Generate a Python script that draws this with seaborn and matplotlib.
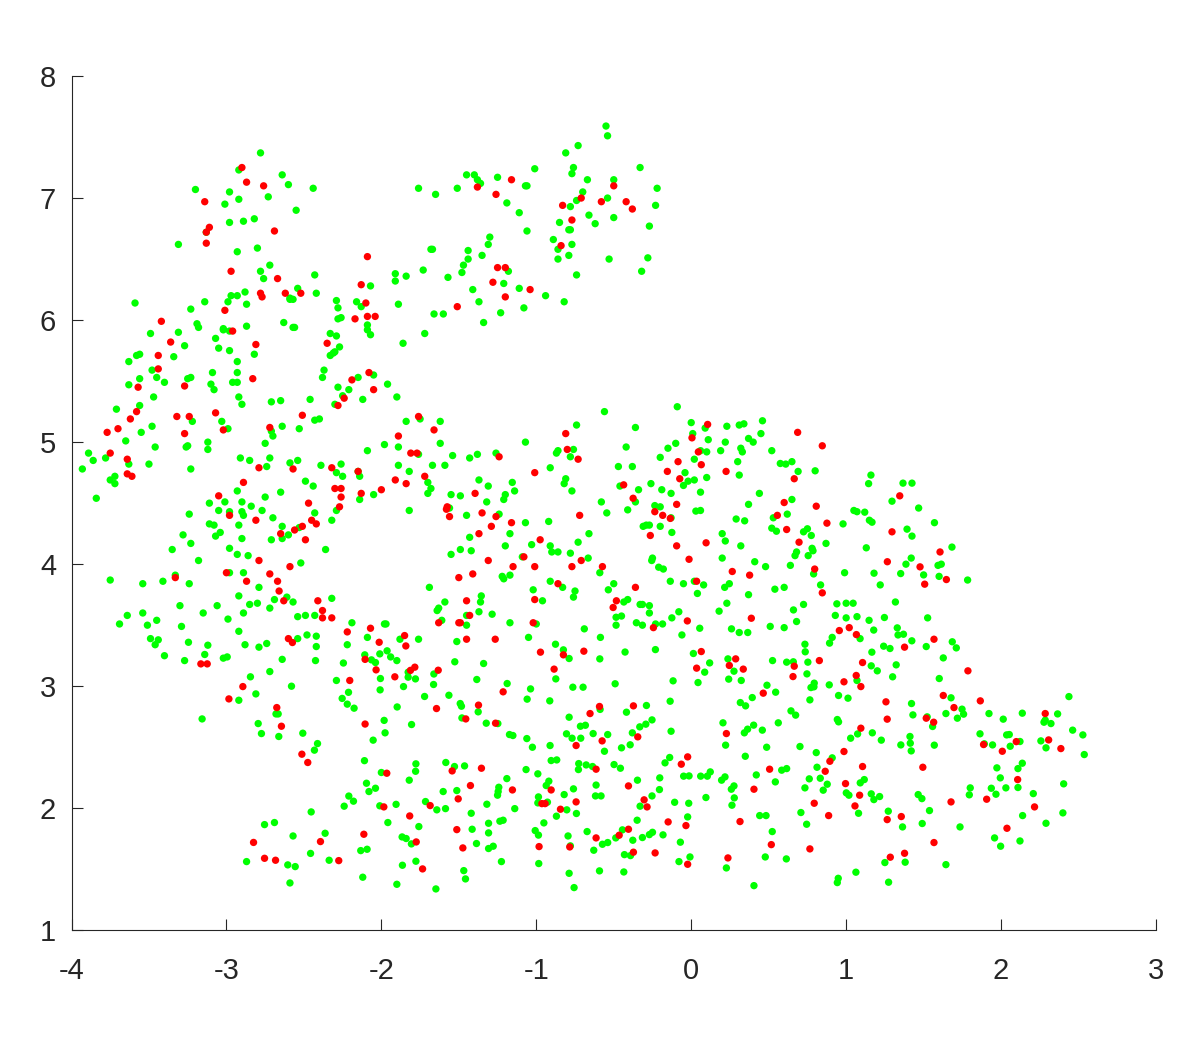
import matplotlib
matplotlib.use("Agg")
import matplotlib.pyplot as plt
import pandas as pd
import seaborn as sns

x_ticks = [-4, -3, -2, -1, 0, 1, 2, 3]
y_ticks = [1, 2, 3, 4, 5, 6, 7, 8]

green_nw = [(-2.78,7.37),(-2.92,7.23),(-2.64,7.19),(-2.60,7.11),(-2.44,7.08),(-3.20,7.07),(-2.98,7.05),(-2.92,6.99),(-2.73,7.01),(-3.01,6.95),(-2.55,6.90),(-2.82,6.83),(-2.89,6.81),(-2.98,6.80),(-3.13,6.72),(-3.31,6.62),(-2.80,6.59),(-2.93,6.56),(-2.72,6.45),(-2.78,6.40),(-2.76,6.34),(-2.43,6.37),(-2.54,6.26),(-2.42,6.22),(-2.88,6.23),(-2.93,6.20),(-2.97,6.20),(-2.99,6.15),(-2.87,6.13),(-3.14,6.15),(-3.59,6.14),(-3.23,6.09),(-2.59,6.18),(-2.59,6.17),(-2.57,6.17),(-3.19,5.97),(-3.18,5.94),(-2.63,5.98),(-2.57,5.94),(-2.56,5.94),(-2.87,5.95),(-3.02,5.93),(-3.02,5.92),(-2.98,5.91),(-3.49,5.89),(-3.31,5.90),(-3.07,5.85),(-3.27,5.79),(-3.05,5.77),(-2.98,5.75),(-2.82,5.72),(-2.33,5.89),(-3.56,5.72),(-3.58,5.71),(-3.34,5.70),(-3.63,5.66),(-2.93,5.66),(-3.48,5.59),(-2.93,5.57),(-3.09,5.57),(-2.37,5.59),(-2.33,5.71),(-2.38,5.53),(-3.45,5.53),(-3.56,5.52),(-3.25,5.52),(-3.23,5.53)]
red_nw = [(-2.90,7.25),(-2.87,7.13),(-2.76,7.10),(-3.14,6.97),(-3.11,6.76),(-3.13,6.72),(-2.69,6.73),(-3.13,6.63),(-2.97,6.40),(-2.67,6.34),(-2.78,6.22),(-2.77,6.19),(-2.62,6.22),(-2.52,6.22),(-3.01,6.08),(-3.42,5.99),(-2.96,5.91),(-3.36,5.82),(-2.81,5.80),(-2.35,5.81),(-3.44,5.71),(-3.44,5.60),(-2.83,5.52)]

green_ne = [(-0.55,7.59),(-0.54,7.51),(-0.73,7.43),(-0.81,7.37),(-0.76,7.25),(-0.77,7.20),(-1.01,7.24),(-0.33,7.25),(-1.45,7.19),(-1.40,7.19),(-1.38,7.15),(-1.36,7.12),(-1.25,7.17),(-0.67,7.15),(-0.50,7.15),(-1.07,7.10),(-1.06,7.10),(-1.76,7.08),(-1.51,7.08),(-1.65,7.03),(-0.22,7.08),(-0.70,7.05),(-0.74,6.98),(-0.54,7.00),(-1.19,6.96),(-0.78,6.93),(-0.23,6.94),(-1.11,6.88),(-0.66,6.86),(-0.50,6.84),(-0.85,6.80),(-0.62,6.79),(-0.27,6.77),(-1.06,6.73),(-0.79,6.74),(-0.78,6.74),(-1.30,6.68),(-0.89,6.66),(-1.31,6.62),(-0.77,6.62),(-1.68,6.58),(-1.67,6.58),(-1.44,6.57),(-0.86,6.58),(-1.35,6.53),(-1.44,6.50),(-0.79,6.53),(-0.86,6.50),(-0.53,6.50),(-0.28,6.51),(-1.47,6.45),(-1.18,6.40),(-1.48,6.39),(-0.32,6.40),(-1.73,6.41),(-0.74,6.37),(-1.91,6.38),(-1.84,6.36),(-1.57,6.35),(-1.91,6.32),(-2.07,6.28),(-1.21,6.30),(-1.41,6.25),(-1.11,6.26),(-0.94,6.20),(-0.82,6.15),(-1.37,6.15),(-1.89,6.13),(-2.29,6.16),(-2.16,6.15),(-2.13,6.11),(-2.28,6.10),(-1.08,6.10),(-1.66,6.05),(-1.60,6.05),(-1.23,6.06),(-2.26,6.02),(-2.28,6.01),(-1.34,5.98),(-2.09,5.96),(-2.09,5.92),(-2.29,5.87),(-2.07,5.88),(-1.72,5.89),(-1.86,5.81),(-2.27,5.78),(-2.30,5.74),(-2.31,5.73),(-2.05,5.55),(-2.15,5.53)]
red_ne = [(-1.16,7.15),(-1.38,7.09),(-1.26,7.03),(-0.50,7.10),(-0.71,7.00),(-0.58,6.97),(-0.42,6.97),(-0.38,6.91),(-0.83,6.94),(-0.77,6.82),(-0.84,6.61),(-2.09,6.52),(-1.25,6.43),(-1.20,6.43),(-1.28,6.31),(-2.13,6.29),(-1.04,6.25),(-1.20,6.19),(-2.10,6.14),(-1.51,6.11),(-2.09,6.03),(-2.04,6.03),(-2.17,6.01),(-2.08,5.57),(-2.19,5.51)]

green_w = [(-3.63,5.47),(-3.40,5.49),(-3.10,5.475),(-3.08,5.43),(-2.96,5.49),(-2.93,5.49),(-3.47,5.37),(-2.92,5.37),(-2.90,5.31),(-2.71,5.33),(-2.65,5.34),(-2.46,5.35),(-3.71,5.27),(-3.56,5.30),(-3.22,5.17),(-3.03,5.17),(-3.48,5.13),(-2.99,5.11),(-2.43,5.18),(-2.40,5.19),(-2.64,5.13),(-2.53,5.11),(-2.71,5.09),(-2.70,5.05),(-3.55,5.08),(-3.65,5.01),(-3.12,5.00),(-2.75,4.99),(-3.46,4.96),(-3.25,4.97),(-3.26,4.96),(-3.12,4.94),(-3.89,4.91),(-3.78,4.87),(-3.86,4.85),(-2.91,4.87),(-2.85,4.85),(-2.72,4.87),(-2.54,4.85),(-2.59,4.83),(-2.39,4.81),(-2.74,4.80),(-3.63,4.82),(-3.50,4.82),(-3.93,4.78),(-3.23,4.78),(-3.72,4.72),(-3.75,4.69),(-3.72,4.66),(-2.49,4.68),(-2.44,4.64),(-2.93,4.60),(-2.65,4.59),(-3.84,4.54),(-2.75,4.55),(-3.01,4.51),(-3.11,4.50),(-2.90,4.51),(-2.84,4.475),(-2.77,4.44),(-3.05,4.44),(-2.98,4.43),(-2.90,4.43),(-2.89,4.40),(-2.43,4.42),(-3.24,4.41),(-2.70,4.38),(-3.11,4.33),(-3.08,4.32),(-2.92,4.32),(-2.64,4.31),(-2.53,4.30),(-2.32,4.36),(-3.04,4.26),(-3.07,4.23),(-3.28,4.24),(-2.60,4.24),(-2.90,4.21),(-2.71,4.20),(-2.64,4.21),(-3.23,4.17),(-3.35,4.12),(-2.98,4.13),(-2.36,4.12),(-2.93,4.08),(-2.86,4.07),(-3.18,4.03),(-2.52,4.01),(-2.98,3.93),(-2.89,3.93),(-3.33,3.91),(-3.75,3.87),(-3.54,3.84),(-3.41,3.86),(-3.24,3.84),(-2.79,3.81),(-2.92,3.74),(-2.61,3.73),(-2.69,3.71),(-2.57,3.69),(-3.30,3.66),(-3.06,3.66),(-2.85,3.67),(-2.80,3.68),(-2.72,3.64),(-2.32,3.72),(-3.54,3.60),(-3.64,3.58),(-3.15,3.60),(-2.89,3.60),(-2.99,3.55),(-2.54,3.57),(-2.49,3.58),(-2.43,3.58),(-3.69,3.51),(-3.51,3.50),(-3.45,3.54),(-3.29,3.49),(-2.92,3.45),(-3.49,3.39),(-3.44,3.38),(-2.48,3.42),(-2.42,3.41),(-2.54,3.39)]
red_w = [(-3.57,5.45),(-3.27,5.46),(-3.58,5.25),(-3.62,5.19),(-3.32,5.21),(-3.24,5.21),(-3.07,5.24),(-2.51,5.22),(-3.70,5.11),(-3.77,5.08),(-2.72,5.12),(-3.02,5.10),(-3.27,5.07),(-3.75,4.91),(-3.64,4.86),(-2.79,4.79),(-2.57,4.78),(-2.32,4.79),(-3.64,4.74),(-3.61,4.72),(-2.89,4.67),(-3.05,4.56),(-2.47,4.50),(-2.98,4.40),(-2.81,4.36),(-2.45,4.36),(-2.42,4.33),(-2.51,4.31),(-2.56,4.28),(-2.65,4.25),(-2.49,4.20),(-2.79,4.03),(-2.59,3.98),(-3.00,3.93),(-2.72,3.92),(-3.33,3.89),(-2.87,3.86),(-2.67,3.86),(-2.66,3.78),(-2.63,3.70),(-2.41,3.70),(-2.38,3.62),(-2.38,3.56),(-2.32,3.56),(-2.60,3.39)]

green_mid = [(-2.28,5.45),(-2.21,5.43),(-2.25,5.38),(-2.12,5.35),(-1.96,5.475),(-1.90,5.37),(-2.30,5.31),(-1.84,5.17),(-1.75,5.19),(-1.62,5.17),(-0.74,5.14),(-1.07,5.00),(-1.62,4.99),(-1.98,4.98),(-1.89,4.96),(-2.09,4.93),(-0.86,4.93),(-0.87,4.91),(-0.76,4.94),(-0.78,4.88),(-1.54,4.89),(-1.76,4.90),(-1.38,4.90),(-1.43,4.87),(-1.26,4.91),(-2.26,4.82),(-1.89,4.81),(-1.67,4.81),(-1.59,4.81),(-0.91,4.79),(-2.29,4.75),(-2.25,4.72),(-2.15,4.76),(-2.14,4.72),(-1.82,4.76),(-1.37,4.69),(-1.70,4.67),(-1.155,4.67),(-0.81,4.70),(-0.82,4.66),(-1.31,4.64),(-1.68,4.62),(-1.70,4.58),(-1.14,4.60),(-0.77,4.60),(-1.20,4.57),(-1.21,4.53),(-2.05,4.57),(-2.14,4.53),(-1.55,4.57),(-1.49,4.56),(-1.32,4.51),(-1.56,4.46),(-2.29,4.44),(-1.82,4.44),(-1.24,4.41),(-1.45,4.40),(-1.07,4.34),(-0.92,4.35),(-1.17,4.25),(-1.43,4.22),(-0.66,4.25),(-0.73,4.18),(-1.20,4.15),(-1.03,4.16),(-0.91,4.15),(-0.90,4.10),(-0.86,4.10),(-0.78,4.09),(-1.49,4.12),(-1.42,4.11),(-1.55,4.08),(-1.09,4.06),(-0.665,4.05),(-1.22,3.90),(-1.21,3.88),(-1.17,3.91),(-0.91,3.86),(-1.69,3.81),(-0.83,3.81),(-1.02,3.79),(-0.75,3.78),(-0.76,3.73),(-1.355,3.74),(-1.59,3.69),(-1.36,3.69),(-0.96,3.70),(-1.63,3.64),(-1.64,3.62),(-1.37,3.61),(-1.45,3.58),(-1.285,3.59),(-1.61,3.54),(-2.19,3.52),(-1.98,3.51),(-1.97,3.51),(-1.45,3.50),(-1.17,3.52),(-1.00,3.51),(-0.69,3.47),(-2.09,3.40),(-1.88,3.385),(-1.76,3.385),(-1.05,3.40)]
red_mid = [(-2.05,5.43),(-2.24,5.36),(-2.28,5.30),(-1.76,5.21),(-1.89,5.05),(-1.66,5.10),(-0.81,5.07),(-0.80,4.94),(-1.81,4.91),(-1.77,4.91),(-1.24,4.88),(-0.73,4.86),(-2.15,4.76),(-1.72,4.72),(-1.01,4.75),(-1.91,4.69),(-1.84,4.66),(-2.30,4.62),(-2.26,4.62),(-2.26,4.55),(-2.13,4.58),(-2.00,4.61),(-1.395,4.58),(-2.27,4.47),(-1.575,4.47),(-1.58,4.45),(-1.35,4.42),(-1.56,4.39),(-1.26,4.39),(-0.72,4.40),(-1.16,4.34),(-1.29,4.31),(-1.37,4.25),(-0.975,4.20),(-1.08,4.06),(-1.31,4.03),(-0.71,4.03),(-1.15,3.98),(-1.01,3.98),(-0.77,3.98),(-1.41,3.92),(-1.50,3.89),(-0.86,3.84),(-1.01,3.71),(-1.45,3.70),(-1.43,3.58),(-1.63,3.52),(-1.50,3.52),(-1.49,3.52),(-1.02,3.52),(-2.07,3.475),(-2.22,3.445),(-1.85,3.415),(-1.45,3.385),(-1.265,3.385)]

green_center = [(-0.56,5.25),(-0.09,5.29),(-0.36,5.12),(0.00,5.16),(0.09,5.115),(0.01,5.07),(0.23,5.13),(0.31,5.14),(0.34,5.15),(0.46,5.175),(0.45,5.07),(0.11,5.02),(0.37,5.03),(0.40,5.00),(0.22,5.00),(-0.10,4.99),(-0.42,4.96),(-0.15,4.95),(0.32,4.95),(0.33,4.92),(0.19,4.93),(0.06,4.93),(0.10,4.92),(0.52,4.93),(-0.20,4.875),(0.02,4.86),(0.30,4.84),(0.575,4.825),(0.61,4.82),(0.65,4.84),(-0.47,4.80),(-0.38,4.80),(0.69,4.76),(0.80,4.765),(-0.04,4.75),(0.31,4.73),(0.10,4.71),(-0.02,4.68),(0.02,4.69),(-0.26,4.66),(-0.05,4.645),(-0.46,4.64),(-0.34,4.61),(-0.19,4.61),(-0.13,4.58),(0.06,4.59),(0.44,4.58),(0.65,4.53),(-0.58,4.51),(-0.36,4.51),(0.37,4.49),(-0.235,4.48),(-0.20,4.47),(-0.41,4.445),(-0.545,4.42),(0.03,4.435),(0.06,4.44),(0.62,4.41),(0.53,4.38),(0.29,4.37),(0.345,4.355),(-0.13,4.38),(-0.31,4.31),(-0.29,4.32),(-0.27,4.32),(-0.20,4.31),(0.98,4.33),(0.52,4.295),(0.55,4.27),(0.725,4.265),(0.75,4.29),(0.775,4.235),(-0.125,4.26),(0.20,4.25),(0.22,4.19),(0.32,4.15),(0.87,4.17),(0.78,4.13),(0.786,4.11),(0.68,4.10),(0.67,4.07),(0.755,4.07),(-0.25,4.05),(-0.255,4.03),(0.20,4.05),(0.41,4.02),(0.48,3.98),(0.64,3.99),(-0.21,3.975),(-0.18,3.96),(-0.59,3.93),(0.79,3.92),(0.99,3.93),(-0.50,3.84),(-0.135,3.86),(-0.05,3.84),(0.02,3.86),(0.08,3.83),(0.246,3.84),(0.216,3.81),(0.835,3.83),(0.54,3.795),(0.60,3.81),(-0.535,3.79),(0.04,3.76),(0.37,3.75),(-0.435,3.69),(-0.41,3.71),(-0.33,3.67),(-0.315,3.67),(-0.27,3.66),(0.23,3.68),(0.725,3.67),(0.94,3.675),(1.00,3.68),(-0.27,3.60),(0.66,3.625),(0.18,3.615),(-0.08,3.61),(-0.485,3.565),(-0.45,3.575),(-0.125,3.56),(0.93,3.58),(1.00,3.56),(0.68,3.53),(-0.354,3.52),(-0.485,3.50),(-0.315,3.50),(-0.23,3.51),(-0.185,3.51),(0.055,3.475),(0.26,3.47),(0.51,3.49),(0.60,3.48),(0.31,3.44),(0.365,3.44),(-0.06,3.42),(0.91,3.40),(-0.586,3.40)]
red_center = [(0.106,5.145),(0.005,5.035),(0.687,5.08),(0.846,4.97),(0.046,4.92),(-0.085,4.84),(0.065,4.815),(-0.154,4.76),(0.225,4.76),(-0.074,4.70),(0.665,4.70),(-0.436,4.65),(-0.375,4.54),(0.60,4.505),(-0.094,4.49),(0.807,4.475),(-0.235,4.43),(-0.184,4.40),(-0.135,4.375),(0.556,4.40),(0.876,4.336),(0.616,4.284),(-0.264,4.235),(0.696,4.18),(0.096,4.175),(-0.094,4.15),(-0.014,4.04),(-0.573,3.98),(0.797,3.96),(0.265,3.94),(0.377,3.91),(0.035,3.86),(-0.36,3.81),(-0.483,3.70),(-0.504,3.645),(0.846,3.765),(0.388,3.557),(-0.025,3.535),(-0.244,3.48),(0.956,3.456),(1.02,3.48)]

green_e = [(1.16,4.73),(1.145,4.66),(1.367,4.664),(1.425,4.664),(1.296,4.516),(1.468,4.46),(1.05,4.44),(1.07,4.43),(1.12,4.426),(1.15,4.36),(1.167,4.344),(1.57,4.34),(1.393,4.287),(1.425,4.23),(1.13,4.134),(1.683,4.14),(1.42,4.05),(1.386,4.00),(1.593,3.99),(1.614,4.00),(1.18,3.926),(1.352,3.923),(1.50,3.912),(1.60,3.90),(1.784,3.87),(1.22,3.83),(1.045,3.68),(1.318,3.69),(1.07,3.57),(1.247,3.563),(1.526,3.56),(1.148,3.54),(1.33,3.478),(1.178,3.46),(1.335,3.42),(1.37,3.426),(1.09,3.39)]
red_e = [(1.346,4.56),(1.296,4.265),(1.606,4.10),(1.266,4.02),(1.477,3.978),(1.647,3.874),(1.507,3.836),(1.066,3.423),(1.567,3.385)]

green_sw = [(-3.46,3.34),(-3.245,3.36),(-3.12,3.336),(-3.40,3.25),(-3.14,3.26),(-3.27,3.21),(-3.02,3.23),(-2.995,3.24),(-2.88,3.34),(-2.79,3.32),(-2.74,3.35),(-2.42,3.325),(-2.22,3.34),(-2.64,3.22),(-2.425,3.21),(-2.245,3.19),(-2.107,3.257),(-2.01,3.265),(-1.963,3.29),(-1.94,3.24),(-2.064,3.216),(-2.038,3.194),(-1.90,3.21),(-2.72,3.12),(-2.845,3.077),(-2.29,3.047),(-2.006,3.063),(-1.827,3.115),(-1.827,3.074),(-2.58,3.00),(-2.212,2.95),(-2.008,2.97),(-1.857,2.997),(-2.81,2.937),(-2.253,2.90),(-2.92,2.885),(-2.22,2.853),(-2.176,2.82),(-1.898,2.83),(-2.68,2.773),(-2.666,2.773),(-3.157,2.732),(-1.982,2.72),(-2.795,2.694),(-1.805,2.686),(-2.774,2.612),(-2.662,2.588),(-2.507,2.615),(-1.976,2.618),(-2.053,2.558),(-2.412,2.53),(-2.432,2.476),(-2.109,2.39),(-2.00,2.293),(-1.82,2.23),(-2.096,2.205),(-2.038,2.164),(-2.08,2.137),(-2.21,2.10),(-2.18,2.058),(-2.24,2.017),(-2.01,2.02),(-1.905,2.032),(-2.453,1.97),(-1.958,1.883),(-2.754,1.866),(-2.69,1.883),(-2.363,1.795),(-2.57,1.773),(-1.866,1.765),(-1.84,1.752),(-1.806,1.708),(-2.457,1.63),(-2.133,1.653),(-2.092,1.664),(-2.337,1.574),(-2.87,1.563),(-2.604,1.536),(-2.556,1.522),(-1.864,1.533),(-2.12,1.435),(-2.59,1.388),(-1.90,1.377)]
red_sw = [(-2.574,3.358),(-2.014,3.36),(-1.842,3.33),(-2.105,3.22),(-3.165,3.183),(-3.124,3.183),(-2.034,3.134),(-1.812,3.13),(-1.913,3.077),(-2.204,3.047),(-2.894,2.997),(-2.984,2.896),(-2.675,2.825),(-2.105,2.69),(-2.645,2.672),(-2.513,2.443),(-2.475,2.375),(-1.965,2.287),(-1.984,2.011),(-1.817,1.937),(-2.113,1.787),(-2.825,1.72),(-2.393,1.727),(-2.754,1.59),(-2.683,1.574),(-2.275,1.571)]

green_s = [(-1.513,3.366),(-0.876,3.344),(-0.825,3.298),(-0.788,3.227),(-0.59,3.224),(-0.427,3.28),(-0.231,3.30),(-1.526,3.2),(-1.34,3.186),(-1.661,3.10),(-1.78,3.06),(-1.384,3.055),(-0.874,3.06),(-1.663,3.014),(-1.188,3.022),(-0.491,3.02),(-0.764,2.992),(-0.698,2.992),(-1.037,2.978),(-1.564,2.926),(-1.721,2.916),(-1.059,2.894),(-0.913,2.88),(-1.491,2.858),(-1.483,2.836),(-1.375,2.79),(-0.588,2.81),(-0.289,2.842),(-0.418,2.787),(-0.136,2.877),(-1.48,2.74),(-1.323,2.697),(-1.248,2.694),(-0.788,2.746),(-0.253,2.724),(-0.715,2.672),(-0.683,2.68),(-0.293,2.689),(-0.332,2.667),(-1.173,2.604),(-1.151,2.596),(-0.805,2.61),(-0.633,2.612),(-0.539,2.604),(-0.38,2.618),(-0.13,2.631),(-1.061,2.571),(-0.769,2.574),(-0.713,2.574),(-1.025,2.50),(-0.911,2.514),(-0.45,2.495),(-0.394,2.52),(-0.56,2.467),(-0.904,2.391),(-0.868,2.396),(-0.139,2.416),(-0.169,2.372),(-1.777,2.364),(-1.584,2.375),(-1.528,2.342),(-1.463,2.347),(-0.726,2.366),(-0.678,2.355),(-0.637,2.342),(-0.498,2.358),(-0.457,2.328),(-1.779,2.303),(-0.728,2.317),(-1.066,2.317),(-0.99,2.282),(-1.19,2.243),(-0.919,2.222),(-0.936,2.186),(-0.203,2.249),(-0.347,2.23),(-0.614,2.19),(-0.205,2.153),(-1.242,2.172),(-1.246,2.137),(-1.25,2.107),(-0.76,2.159),(-1.601,2.137),(-1.513,2.145),(-0.82,2.112),(-0.986,2.093),(-0.618,2.101),(-0.582,2.101),(-0.253,2.101),(-1.715,2.055),(-1.319,2.033),(-0.99,2.044),(-0.928,2.05),(-0.33,2.017),(-1.642,1.987),(-1.586,1.997),(-1.139,1.997),(-0.803,1.987),(-1.42,1.959),(-0.741,1.957),(-0.87,1.935),(-0.349,1.902),(-1.308,1.877),(-1.235,1.894),(-1.214,1.902),(-0.951,1.88),(-1.758,1.85),(-1.414,1.828),(-1.007,1.817),(-0.986,1.78),(-0.672,1.809),(-0.444,1.823),(-1.308,1.798),(-0.795,1.773),(-0.27,1.784),(-0.25,1.803),(-0.182,1.782),(-0.315,1.76),(-0.487,1.757),(-0.377,1.738),(-0.539,1.719),(-0.573,1.705),(-1.386,1.711),(-0.78,1.692),(-1.308,1.67),(-1.278,1.689),(-0.629,1.656),(-0.431,1.62),(-0.392,1.612),(-1.777,1.566),(-1.225,1.563),(-0.984,1.547),(-1.468,1.489),(-0.788,1.467),(-0.592,1.487),(-0.435,1.478),(-1.457,1.421),(-1.648,1.339),(-0.756,1.35)]
red_s = [(-0.973,3.279),(-0.825,3.257),(-0.693,3.287),(-1.784,3.156),(-1.633,3.131),(-0.885,3.14),(-1.214,2.954),(-1.373,2.845),(-1.644,2.817),(-0.592,2.834),(-0.373,2.839),(-0.653,2.776),(-1.455,2.732),(-1.263,2.697),(-0.345,2.585),(-0.575,2.552),(-0.743,2.514),(-1.354,2.328),(-1.543,2.306),(-0.614,2.32),(-1.425,2.186),(-0.405,2.183),(-1.154,2.15),(-0.904,2.15),(-1.504,2.077),(-0.304,2.069),(-0.743,2.052),(-0.964,2.038),(-0.943,2.038),(-1.685,2.022),(-0.285,2.011),(-0.844,1.992),(-0.149,1.888),(-1.513,1.825),(-0.405,1.828),(-0.614,1.757),(-0.465,1.779),(-1.775,1.724),(-1.474,1.675),(-0.982,1.686),(-0.784,1.683),(-0.373,1.64),(-0.233,1.634),(-1.734,1.503)]

green_se = [(0.014,3.268),(0.119,3.191),(0.087,3.115),(0.237,3.224),(0.276,3.123),(0.242,3.058),(0.323,3.047),(-0.117,3.044),(0.044,3.03),(0.525,3.21),(0.616,3.197),(0.659,3.2),(0.753,3.197),(0.747,3.101),(0.734,3.344),(0.736,3.282),(0.893,3.353),(1.242,3.328),(1.283,3.309),(1.166,3.279),(1.424,3.372),(1.517,3.325),(1.162,3.167),(1.201,3.126),(1.323,3.175),(1.3,3.077),(1.07,3.047),(0.489,3.008),(0.545,2.951),(0.394,2.907),(0.317,2.866),(0.351,2.839),(0.794,3.025),(0.773,2.989),(0.792,2.995),(0.891,3.011),(0.951,2.924),(1.012,2.902),(0.766,2.888),(1.422,2.858),(0.644,2.798),(0.674,2.763),(1.431,2.765),(1.523,2.749),(0.205,2.70),(0.562,2.70),(0.943,2.727),(0.951,2.708),(0.403,2.681),(0.364,2.648),(0.343,2.618),(0.459,2.64),(1.074,2.609),(1.169,2.618),(1.029,2.574),(1.227,2.558),(1.412,2.588),(1.414,2.533),(1.42,2.47),(1.353,2.519),(0.222,2.517),(0.487,2.5),(0.702,2.506),(0.807,2.456),(0.349,2.426),(0.91,2.413),(0.812,2.336),(0.584,2.312),(0.616,2.325),(0.123,2.298),(0.104,2.263),(0.061,2.263),(-0.049,2.263),(-0.014,2.265),(0.218,2.257),(0.196,2.23),(0.42,2.273),(0.762,2.241),(0.833,2.246),(0.543,2.216),(0.878,2.197),(0.276,2.183),(0.259,2.156),(0.734,2.167),(0.852,2.148),(1.117,2.235),(1.091,2.208),(1.001,2.126),(1.018,2.107),(1.162,2.118),(1.179,2.071),(1.216,2.096),(1.465,2.112),(1.489,2.079),(0.278,2.085),(0.095,2.088),(-0.107,2.049),(-0.016,2.041),(0.263,2.025),(0.708,1.965),(1.08,1.959),(1.272,1.976),(1.538,1.981),(-0.023,1.929),(0.442,1.94),(0.483,1.94),(0.745,1.869),(1.364,1.847),(1.491,1.875),(0.523,1.809),(-0.07,1.722),(-0.008,1.601),(-0.079,1.563),(0.478,1.601),(0.614,1.585),(0.227,1.511),(1.25,1.555),(1.381,1.558),(1.063,1.476),(0.949,1.426),(0.943,1.391),(1.274,1.394),(0.405,1.366)]
red_se = [(0.065,3.284),(0.287,3.224),(0.246,3.17),(0.035,3.148),(0.336,3.14),(1.377,3.32),(0.827,3.21),(0.665,3.164),(1.106,3.194),(0.657,3.079),(1.065,3.088),(0.986,3.036),(1.095,2.997),(0.465,2.943),(1.257,2.872),(1.265,2.73),(1.517,2.738),(0.227,2.612),(1.095,2.656),(0.986,2.465),(-0.023,2.421),(-0.064,2.361),(0.895,2.385),(0.865,2.303),(1.106,2.342),(1.495,2.336),(0.506,2.32),(0.996,2.202),(0.405,2.156),(1.087,2.107),(0.794,2.041),(1.057,2.019),(0.887,1.94),(1.356,1.932),(1.265,1.907),(0.315,1.891),(-0.034,1.858),(0.517,1.702),(0.766,1.667),(1.377,1.631),(1.285,1.599),(0.237,1.593),(-0.023,1.541)]

green_far = [(1.685,3.364),(1.711,3.314),(1.627,3.232),(1.601,3.063),(1.677,2.905),(2.438,2.915),(1.748,2.812),(1.758,2.771),(1.718,2.738),(1.644,2.776),(1.922,2.776),(2.014,2.73),(2.137,2.779),(2.365,2.773),(2.285,2.722),(2.277,2.705),(2.322,2.694),(2.462,2.64),(2.528,2.601),(1.864,2.61),(2.036,2.601),(2.053,2.604),(1.892,2.528),(1.945,2.519),(2.122,2.547),(2.257,2.552),(2.059,2.508),(2.29,2.495),(2.537,2.44),(1.569,2.517),(2.137,2.369),(2.109,2.325),(1.973,2.331),(1.995,2.249),(2.404,2.2),(1.801,2.167),(1.937,2.164),(2.031,2.167),(2.109,2.17),(1.795,2.11),(1.967,2.115),(2.208,2.12),(2.139,1.94),(2.399,1.962),(2.29,1.877),(1.735,1.847),(1.958,1.757),(2.122,1.732),(1.997,1.689),(1.644,1.538),(1.558,2.67)]
red_far = [(1.786,3.126),(1.627,2.924),(1.866,2.88),(1.696,2.825),(1.565,2.705),(2.285,2.776),(2.307,2.56),(2.386,2.489),(2.098,2.546),(1.887,2.522),(2.008,2.467),(2.107,2.235),(1.907,2.074),(2.216,2.011),(1.677,2.052),(2.038,1.836),(1.567,1.719)]

green_points = (green_nw + green_ne + green_w + green_mid + green_center
                + green_e + green_sw + green_s + green_se + green_far)
red_points = (red_nw + red_ne + red_w + red_mid + red_center
              + red_e + red_sw + red_s + red_se + red_far)

df = pd.DataFrame(
    [(x, y, "g") for x, y in green_points] + [(x, y, "r") for x, y in red_points],
    columns=["x", "y", "cls"],
)

sns.set_style("white")
plt.rcParams["font.family"] = ["Liberation Sans", "DejaVu Sans"]
plt.rcParams["axes.unicode_minus"] = False

fig = plt.figure(figsize=(11.82, 10.47), dpi=100)
ax = fig.add_axes([71.5 / 1182, (1047 - 930.3) / 1047, (1156 - 71.5) / 1182, (930.3 - 76) / 1047])
sns.scatterplot(data=df, x="x", y="y", hue="cls", palette={"g": "#00ff00", "r": "#ff0000"},
                s=28, linewidth=0, legend=False, ax=ax, clip_on=False)
ax.set_xlim(-4, 3)
ax.set_ylim(1, 8)
ax.set_xticks(x_ticks)
ax.set_yticks(y_ticks)
ax.set_xlabel("")
ax.set_ylabel("")
sns.despine(ax=ax)
for side in ("left", "bottom"):
    ax.spines[side].set_linewidth(0.8)
    ax.spines[side].set_color("#262626")
ax.tick_params(axis="both", direction="in", length=7.8, width=0.8, color="#262626",
               labelcolor="#262626", labelsize=21, left=True, bottom=True)
ax.tick_params(axis="x", pad=19)
ax.tick_params(axis="y", pad=11)
fig.savefig("out.png", dpi=100, facecolor="white")
